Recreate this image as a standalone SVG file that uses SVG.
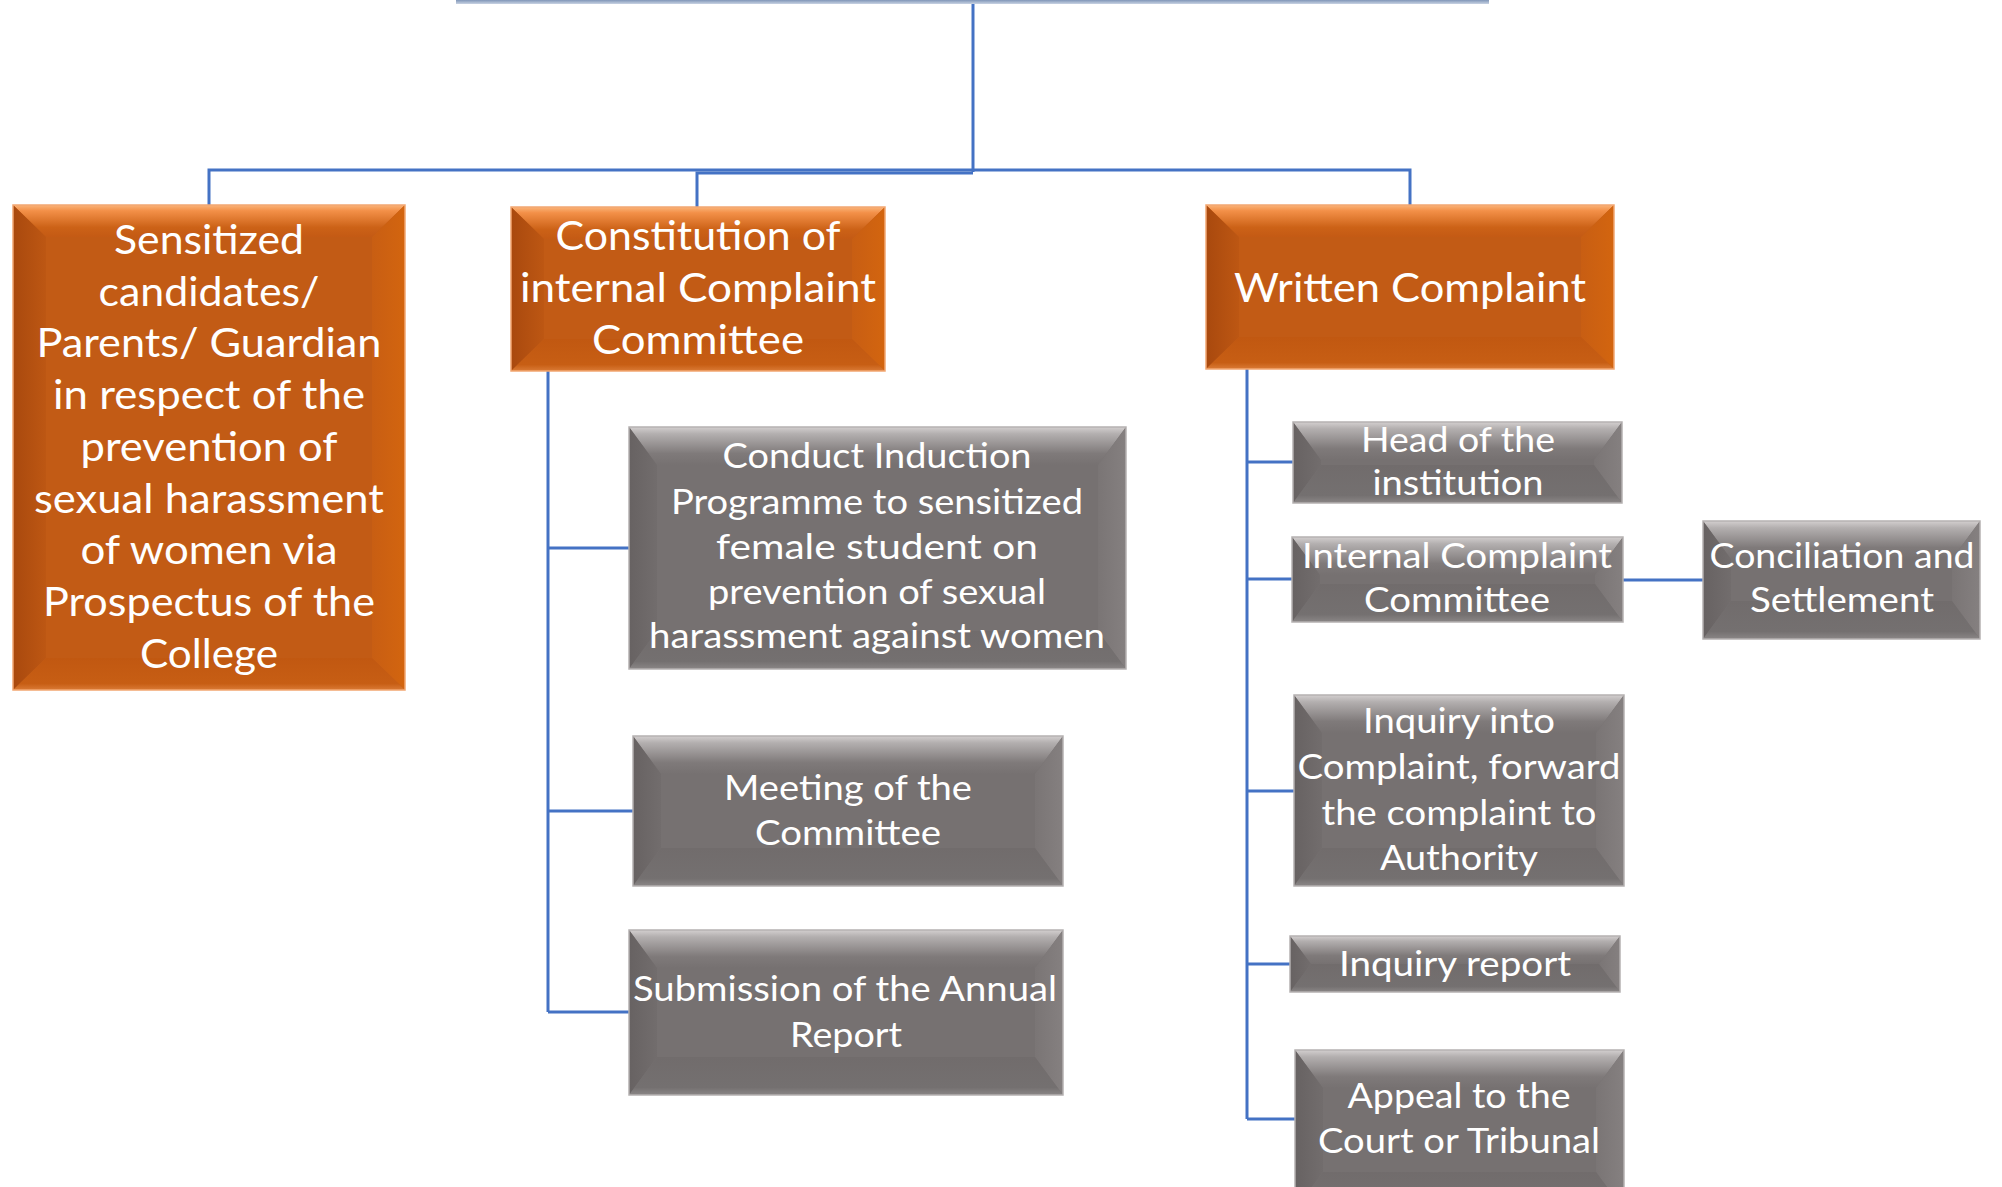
<svg xmlns="http://www.w3.org/2000/svg" width="2002" height="1187" viewBox="0 0 2002 1187">
<defs>
<linearGradient id="oTop" x1="0" y1="0" x2="0" y2="1"><stop offset="0" stop-color="#FAB47A"/><stop offset="0.18" stop-color="#F39048"/><stop offset="0.7" stop-color="#CC6217"/><stop offset="1" stop-color="#C45A14"/></linearGradient>
<linearGradient id="oLeft" x1="0" y1="0" x2="1" y2="0"><stop offset="0" stop-color="#A9490E"/><stop offset="1" stop-color="#BD5713"/></linearGradient>
<linearGradient id="oRight" x1="0" y1="0" x2="1" y2="0"><stop offset="0" stop-color="#C85E13"/><stop offset="1" stop-color="#D3650F"/></linearGradient>
<linearGradient id="oBot" x1="0" y1="0" x2="0" y2="1"><stop offset="0" stop-color="#C15811"/><stop offset="0.8" stop-color="#C75E14"/><stop offset="1" stop-color="#DA7A35"/></linearGradient>
<linearGradient id="gTop" x1="0" y1="0" x2="0" y2="1"><stop offset="0" stop-color="#D3CFCF"/><stop offset="0.18" stop-color="#B3AFAF"/><stop offset="0.7" stop-color="#7F7A7A"/><stop offset="1" stop-color="#767171"/></linearGradient>
<linearGradient id="gLeft" x1="0" y1="0" x2="1" y2="0"><stop offset="0" stop-color="#676262"/><stop offset="1" stop-color="#726D6D"/></linearGradient>
<linearGradient id="gRight" x1="0" y1="0" x2="1" y2="0"><stop offset="0" stop-color="#7A7575"/><stop offset="1" stop-color="#858080"/></linearGradient>
<linearGradient id="gBot" x1="0" y1="0" x2="0" y2="1"><stop offset="0" stop-color="#716C6C"/><stop offset="0.8" stop-color="#747070"/><stop offset="1" stop-color="#8A8686"/></linearGradient>
<linearGradient id="bar" x1="0" y1="0" x2="0" y2="1"><stop offset="0" stop-color="#8096B8"/><stop offset="1" stop-color="#C9D3E3"/></linearGradient>
</defs>
<style>
.ob{fill:#C25B15}.ot{fill:url(#oTop)}.ol{fill:url(#oLeft)}.or{fill:url(#oRight)}.obt{fill:url(#oBot)}
.gb{fill:#767171}.gt{fill:url(#gTop)}.gl{fill:url(#gLeft)}.gr{fill:url(#gRight)}.gbt{fill:url(#gBot)}
.oe{fill:none;stroke:#F2A772;stroke-width:1.5}.ge{fill:none;stroke:#B5B1B1;stroke-width:1.5}
.t{font-family:Lato,"Open Sans",sans-serif;fill:#FFFFFF;text-anchor:middle}
.o{font-size:41px}.g{font-size:34px}
.c{fill:none;stroke:#4472C4;stroke-width:3}
</style>
<rect x="0" y="0" width="2002" height="1187" fill="#FFFFFF"/>
<rect id="top-bar" x="456" y="0" width="1033" height="4" fill="url(#bar)"/>

<g id="connectors">
<path class="c" d="M973,4 V172"/>
<path class="c" d="M209,205 V170 H1410 V205"/>
<path class="c" d="M697,207 V173 H973"/>
<path class="c" d="M548,371 V1012"/>
<path class="c" d="M548,548 H629"/>
<path class="c" d="M548,811 H633"/>
<path class="c" d="M548,1012 H629"/>
<path class="c" d="M1247,369 V1119"/>
<path class="c" d="M1247,462 H1293"/>
<path class="c" d="M1247,579 H1292"/>
<path class="c" d="M1247,791 H1294"/>
<path class="c" d="M1247,964 H1290"/>
<path class="c" d="M1247,1119 H1295"/>
<path class="c" d="M1623,580 H1703"/>
</g>

<g id="node-sensitized">
<g transform="translate(13,205)">
<rect class="ob" width="392" height="485"/>
<polygon class="ot" points="0,0 392,0 359,32 33,32"/>
<polygon class="ol" points="0,0 33,32 33,453 0,485"/>
<polygon class="or" points="392,0 392,485 359,453 359,32"/>
<polygon class="obt" points="0,485 33,453 359,453 392,485"/>
<rect class="oe" width="392" height="485"/>
</g>
<text class="t o" x="209" y="253.5" textLength="190" lengthAdjust="spacingAndGlyphs">Sensitized</text>
<text class="t o" x="209" y="305.5" textLength="221" lengthAdjust="spacingAndGlyphs">candidates/</text>
<text class="t o" x="209" y="357" textLength="345" lengthAdjust="spacingAndGlyphs">Parents/ Guardian</text>
<text class="t o" x="209" y="409" textLength="312" lengthAdjust="spacingAndGlyphs">in respect of the</text>
<text class="t o" x="209" y="460.5" textLength="257" lengthAdjust="spacingAndGlyphs">prevention of</text>
<text class="t o" x="209" y="512.5" textLength="350" lengthAdjust="spacingAndGlyphs">sexual harassment</text>
<text class="t o" x="209" y="564" textLength="257" lengthAdjust="spacingAndGlyphs">of women via</text>
<text class="t o" x="209" y="616" textLength="332" lengthAdjust="spacingAndGlyphs">Prospectus of the</text>
<text class="t o" x="209" y="667.5" textLength="138" lengthAdjust="spacingAndGlyphs">College</text>
</g>

<g id="node-constitution">
<g transform="translate(511,207)">
<rect class="ob" width="374" height="164"/>
<polygon class="ot" points="0,0 374,0 341,32 33,32"/>
<polygon class="ol" points="0,0 33,32 33,132 0,164"/>
<polygon class="or" points="374,0 374,164 341,132 341,32"/>
<polygon class="obt" points="0,164 33,132 341,132 374,164"/>
<rect class="oe" width="374" height="164"/>
</g>
<text class="t o" x="698" y="250" textLength="285" lengthAdjust="spacingAndGlyphs">Constitution of</text>
<text class="t o" x="698" y="302" textLength="356" lengthAdjust="spacingAndGlyphs">internal Complaint</text>
<text class="t o" x="698" y="354" textLength="212" lengthAdjust="spacingAndGlyphs">Committee</text>
</g>

<g id="node-written">
<g transform="translate(1206,205)">
<rect class="ob" width="408" height="164"/>
<polygon class="ot" points="0,0 408,0 375,32 33,32"/>
<polygon class="ol" points="0,0 33,32 33,132 0,164"/>
<polygon class="or" points="408,0 408,164 375,132 375,32"/>
<polygon class="obt" points="0,164 33,132 375,132 408,164"/>
<rect class="oe" width="408" height="164"/>
</g>
<text class="t o" x="1410" y="302" textLength="352" lengthAdjust="spacingAndGlyphs">Written Complaint</text>
</g>

<g id="node-conduct">
<g transform="translate(629,427)">
<rect class="gb" width="497" height="242"/>
<polygon class="gt" points="0,0 497,0 469,38 28,38"/>
<polygon class="gl" points="0,0 28,38 28,204 0,242"/>
<polygon class="gr" points="497,0 497,242 469,204 469,38"/>
<polygon class="gbt" points="0,242 28,204 469,204 497,242"/>
<rect class="ge" width="497" height="242"/>
</g>
<text class="t g" x="877" y="468" textLength="309" lengthAdjust="spacingAndGlyphs">Conduct Induction</text>
<text class="t g" x="877" y="514" textLength="412" lengthAdjust="spacingAndGlyphs">Programme to sensitized</text>
<text class="t g" x="877" y="559" textLength="322" lengthAdjust="spacingAndGlyphs">female student on</text>
<text class="t g" x="877" y="604" textLength="338" lengthAdjust="spacingAndGlyphs">prevention of sexual</text>
<text class="t g" x="877" y="648" textLength="456" lengthAdjust="spacingAndGlyphs">harassment against women</text>
</g>

<g id="node-meeting">
<g transform="translate(633,736)">
<rect class="gb" width="430" height="150"/>
<polygon class="gt" points="0,0 430,0 402,38 28,38"/>
<polygon class="gl" points="0,0 28,38 28,112 0,150"/>
<polygon class="gr" points="430,0 430,150 402,112 402,38"/>
<polygon class="gbt" points="0,150 28,112 402,112 430,150"/>
<rect class="ge" width="430" height="150"/>
</g>
<text class="t g" x="848" y="800" textLength="248" lengthAdjust="spacingAndGlyphs">Meeting of the</text>
<text class="t g" x="848" y="845" textLength="186" lengthAdjust="spacingAndGlyphs">Committee</text>
</g>

<g id="node-submission">
<g transform="translate(629,930)">
<rect class="gb" width="434" height="165"/>
<polygon class="gt" points="0,0 434,0 406,38 28,38"/>
<polygon class="gl" points="0,0 28,38 28,127 0,165"/>
<polygon class="gr" points="434,0 434,165 406,127 406,38"/>
<polygon class="gbt" points="0,165 28,127 406,127 434,165"/>
<rect class="ge" width="434" height="165"/>
</g>
<text class="t g" x="845" y="1001" textLength="424" lengthAdjust="spacingAndGlyphs">Submission of the Annual</text>
<text class="t g" x="846" y="1047" textLength="112" lengthAdjust="spacingAndGlyphs">Report</text>
</g>

<g id="node-head">
<g transform="translate(1293,422)">
<rect class="gb" width="329" height="81"/>
<polygon class="gt" points="0,0 329,0 301,38 28,38"/>
<polygon class="gl" points="0,0 28,38 28,43 0,81"/>
<polygon class="gr" points="329,0 329,81 301,43 301,38"/>
<polygon class="gbt" points="0,81 28,43 301,43 329,81"/>
<rect class="ge" width="329" height="81"/>
</g>
<text class="t g" x="1458" y="452" textLength="194" lengthAdjust="spacingAndGlyphs">Head of the</text>
<text class="t g" x="1458" y="495" textLength="171" lengthAdjust="spacingAndGlyphs">institution</text>
</g>

<g id="node-icc">
<g transform="translate(1292,537)">
<rect class="gb" width="331" height="85"/>
<polygon class="gt" points="0,0 331,0 303,38 28,38"/>
<polygon class="gl" points="0,0 28,38 28,47 0,85"/>
<polygon class="gr" points="331,0 331,85 303,47 303,38"/>
<polygon class="gbt" points="0,85 28,47 303,47 331,85"/>
<rect class="ge" width="331" height="85"/>
</g>
<text class="t g" x="1457" y="568" textLength="310" lengthAdjust="spacingAndGlyphs">Internal Complaint</text>
<text class="t g" x="1457" y="612" textLength="186" lengthAdjust="spacingAndGlyphs">Committee</text>
</g>

<g id="node-conciliation">
<g transform="translate(1703,521)">
<rect class="gb" width="277" height="118"/>
<polygon class="gt" points="0,0 277,0 249,38 28,38"/>
<polygon class="gl" points="0,0 28,38 28,80 0,118"/>
<polygon class="gr" points="277,0 277,118 249,80 249,38"/>
<polygon class="gbt" points="0,118 28,80 249,80 277,118"/>
<rect class="ge" width="277" height="118"/>
</g>
<text class="t g" x="1842" y="568" textLength="265" lengthAdjust="spacingAndGlyphs">Conciliation and</text>
<text class="t g" x="1842" y="612" textLength="184" lengthAdjust="spacingAndGlyphs">Settlement</text>
</g>

<g id="node-inquiry">
<g transform="translate(1294,695)">
<rect class="gb" width="330" height="191"/>
<polygon class="gt" points="0,0 330,0 302,38 28,38"/>
<polygon class="gl" points="0,0 28,38 28,153 0,191"/>
<polygon class="gr" points="330,0 330,191 302,153 302,38"/>
<polygon class="gbt" points="0,191 28,153 302,153 330,191"/>
<rect class="ge" width="330" height="191"/>
</g>
<text class="t g" x="1459" y="733" textLength="192" lengthAdjust="spacingAndGlyphs">Inquiry into</text>
<text class="t g" x="1459" y="779" textLength="323" lengthAdjust="spacingAndGlyphs">Complaint, forward</text>
<text class="t g" x="1459" y="825" textLength="275" lengthAdjust="spacingAndGlyphs">the complaint to</text>
<text class="t g" x="1459" y="870" textLength="158" lengthAdjust="spacingAndGlyphs">Authority</text>
</g>

<g id="node-report">
<g transform="translate(1290,936)">
<rect class="gb" width="330" height="56"/>
<polygon class="gt" points="0,0 330,0 309,28 21,28"/>
<polygon class="gl" points="0,0 21,28 0,56"/>
<polygon class="gr" points="330,0 330,56 309,28"/>
<polygon class="gbt" points="0,56 21,28 309,28 330,56"/>
<rect class="ge" width="330" height="56"/>
</g>
<text class="t g" x="1455" y="976" textLength="232" lengthAdjust="spacingAndGlyphs">Inquiry report</text>
</g>

<g id="node-appeal">
<g transform="translate(1295,1050)">
<rect class="gb" width="329" height="160"/>
<polygon class="gt" points="0,0 329,0 301,38 28,38"/>
<polygon class="gl" points="0,0 28,38 28,122 0,160"/>
<polygon class="gr" points="329,0 329,160 301,122 301,38"/>
<polygon class="gbt" points="0,160 28,122 301,122 329,160"/>
<rect class="ge" width="329" height="160"/>
</g>
<text class="t g" x="1459" y="1108" textLength="223" lengthAdjust="spacingAndGlyphs">Appeal to the</text>
<text class="t g" x="1459" y="1153" textLength="282" lengthAdjust="spacingAndGlyphs">Court or Tribunal</text>
</g>
</svg>
